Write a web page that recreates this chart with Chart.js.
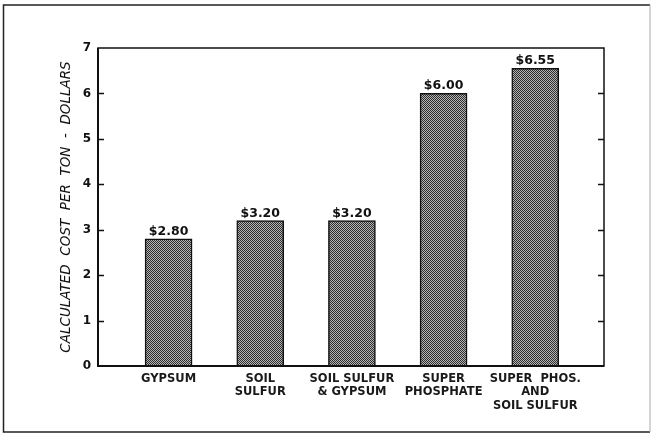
<!DOCTYPE html>
<html>
<head>
<meta charset="utf-8">
<script src="https://cdn.jsdelivr.net/npm/chart.js@4/dist/chart.umd.min.js"></script>
<style>
  html, body { margin: 0; padding: 0; background: #fff; }
  #wrap { width: 652px; height: 438px; }
</style>
</head>
<body>
<div id="wrap"><canvas id="costChart" width="652" height="438"></canvas></div>
<script>
// data
const categories = [
    ["GYPSUM"],
    ["SOIL", "SULFUR"],
    ["SOIL SULFUR", "& GYPSUM"],
    ["SUPER", "PHOSPHATE"],
    ["SUPER  PHOS.", "AND", "SOIL SULFUR"]
];
const costPerTon = [2.80, 3.20, 3.20, 6.00, 6.55];
const yTicks = [0, 1, 2, 3, 4, 5, 6, 7];

const FONT = "'DejaVu Sans', sans-serif";

// stippled fill like the printed bars
const makeStipple = () => {
    const c = document.createElement("canvas");
    c.width = 2;
    c.height = 2;
    const g = c.getContext("2d");
    g.fillStyle = "#b4b4b4";
    g.fillRect(0, 0, 2, 2);
    g.fillStyle = "#2e2e2e";
    g.fillRect(0, 0, 1, 1);
    g.fillRect(1, 1, 1, 1);
    return g.createPattern(c, "repeat");
};

// outer frame + plot box with inward ticks on both sides
const framePlugin = {
    id: "frame",
    beforeDraw(chart) {
        const ctx = chart.ctx;
        ctx.save();
        ctx.strokeStyle = "#222";
        ctx.lineWidth = 1.5;
        ctx.beginPath();
        ctx.moveTo(650, 5);
        ctx.lineTo(3.5, 5);
        ctx.lineTo(3.5, 432);
        ctx.lineTo(650, 432);
        ctx.stroke();
        ctx.strokeStyle = "#aaa";
        ctx.lineWidth = 1;
        ctx.beginPath();
        ctx.moveTo(650, 5);
        ctx.lineTo(650, 432);
        ctx.stroke();
        ctx.restore();
    },
    afterDatasetsDraw(chart) {
        const { ctx, chartArea: a, scales } = chart;
        ctx.save();
        ctx.strokeStyle = "#111";
        ctx.lineWidth = 1.5;
        ctx.strokeRect(a.left, a.top, a.right - a.left, a.bottom - a.top);
        ctx.lineWidth = 2;
        ctx.beginPath();
        ctx.moveTo(a.left, a.top);
        ctx.lineTo(a.left, a.bottom);
        ctx.lineTo(a.right, a.bottom);
        ctx.stroke();
        ctx.lineWidth = 1.3;
        yTicks.forEach((v) => {
            if (v === 0 || v === 7) return;
            const y = Math.round(scales.y.getPixelForValue(v)) + 0.5;
            ctx.beginPath();
            ctx.moveTo(a.left, y);
            ctx.lineTo(a.left + 6, y);
            ctx.moveTo(a.right, y);
            ctx.lineTo(a.right - 6, y);
            ctx.stroke();
        });
        ctx.restore();
    }
};

// "$x.xx" above each bar
const valueLabels = {
    id: "valueLabels",
    afterDatasetsDraw(chart) {
        const ctx = chart.ctx;
        const meta = chart.getDatasetMeta(0);
        ctx.save();
        ctx.fillStyle = "#111";
        ctx.font = "bold 12.5px " + FONT;
        ctx.textAlign = "center";
        ctx.textBaseline = "bottom";
        meta.data.forEach((bar, i) => {
            ctx.fillText("$" + costPerTon[i].toFixed(2), bar.x, bar.y - 1);
        });
        ctx.restore();
    }
};

new Chart(document.getElementById("costChart"), {
    type: "bar",
    data: {
        datasets: [{
            data: costPerTon.map((v, i) => ({ x: i, y: v })),
            backgroundColor: makeStipple(),
            borderColor: "#111",
            borderWidth: 1.5,
            barThickness: 47
        }]
    },
    options: {
        responsive: false,
        animation: false,
        devicePixelRatio: 1,
        layout: { padding: { top: 48, right: 48, left: 0, bottom: 0 } },
        plugins: {
            legend: { display: false },
            tooltip: { enabled: false }
        },
        scales: {
            x: {
                type: "linear",
                offset: false,
                min: -0.77,
                max: 4.75,
                grid: { display: false, drawTicks: false, offset: false },
                border: { display: false },
                afterBuildTicks: (scale) => {
                    scale.ticks = categories.map((_, i) => ({ value: i }));
                },
                afterFit: (scale) => { scale.height = 72; },
                ticks: {
                    autoSkip: false,
                    maxRotation: 0,
                    padding: 6,
                    color: "#1a1a1a",
                    font: { family: FONT, size: 11.5, weight: "bold", lineHeight: 1.18 },
                    callback: (v) => categories[v]
                }
            },
            y: {
                min: 0,
                max: 7,
                grid: { display: false, drawTicks: false },
                border: { display: false },
                afterFit: (scale) => { scale.width = 98; },
                ticks: {
                    stepSize: 1,
                    padding: 7,
                    color: "#111",
                    font: { family: FONT, size: 12, weight: "bold" }
                },
                title: {
                    display: true,
                    text: "CALCULATED  COST  PER  TON  -  DOLLARS",
                    color: "#111",
                    font: { family: FONT, size: 13.5, style: "italic" },
                    padding: { top: 58, bottom: 0 }
                }
            }
        }
    },
    plugins: [framePlugin, valueLabels]
});
</script>
</body>
</html>
